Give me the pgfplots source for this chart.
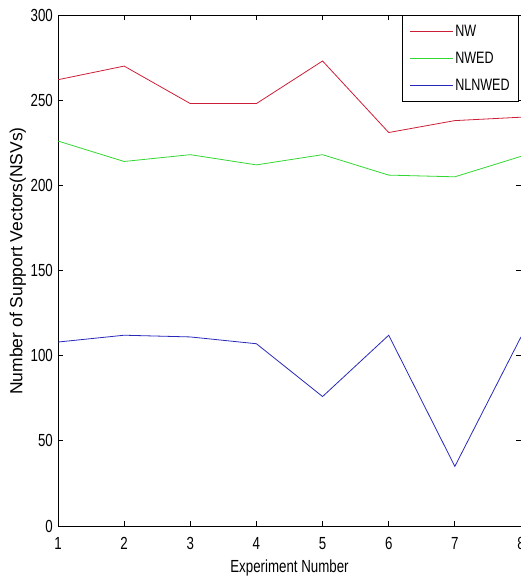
\documentclass[border=0pt]{standalone}
\usepackage{fontspec}
\setmainfont{Liberation Sans}[FakeStretch=0.76]
\newfontfamily\widefont{Liberation Sans}
\usepackage{pgfplots}
\pgfplotsset{compat=1.18}

\definecolor{cNW}{RGB}{205,30,55}
\definecolor{cNWED}{RGB}{50,215,50}
\definecolor{cNL}{RGB}{40,40,185}

\begin{document}
\begin{tikzpicture}
\begin{axis}[
	scale only axis,
	width=463bp, height=511bp,
	xmin=1, xmax=8, ymin=0, ymax=300,
	xtick={1,...,8}, ytick={0,50,...,300},
	tick align=inside,
	major tick length=5bp,
	axis line style={line width=0.9bp},
	every tick/.style={black, line width=0.8bp},
	/pgf/number format/assume math mode=true,
	tick label style={font=\fontsize{17.5bp}{20bp}\selectfont},
	yticklabel style={inner sep=0pt, xshift=-5bp},
	xticklabel style={inner sep=0pt, yshift=-11bp},
	xlabel={Experiment Number},
	xlabel style={font=\fontsize{17.5bp}{20bp}\selectfont, at={(axis description cs:0.5,0)}, anchor=center, yshift=-42bp},
	ylabel={Number of Support Vectors(NSVs)},
	ylabel style={font=\fontsize{17.5bp}{20bp}\widefont, at={(axis description cs:-0.0866,0.5186)}, anchor=center},
	legend cell align=left,
	legend image code/.code={\draw[#1] (0bp,0bp) -- (43bp,0bp);},
	legend style={at={(axis description cs:1,1)}, anchor=north east, xshift=-2bp,
		draw=black, line width=0.7bp, inner xsep=7bp, inner ysep=8bp,
		row sep=10bp,
		font=\fontsize{16.5bp}{18bp}\selectfont},
]
\addplot[cNW, line width=0.8bp] coordinates {
(1,262) (2,270) (3,248) (4,248) (5,273) (6,231) (7,238) (8,240)
};
\addlegendentry{NW}
\addplot[cNWED, line width=0.8bp] coordinates {
(1,226) (2,214) (3,218) (4,212) (5,218) (6,206) (7,205) (8,217)
};
\addlegendentry{NWED}
\addplot[cNL, line width=0.8bp] coordinates {
(1,108) (2,112) (3,111) (4,107) (5,76) (6,112) (7,35) (8,111)
};
\addlegendentry{NLNWED}
\end{axis}
\pgfresetboundingbox
\useasboundingbox ([shift={(-58bp,-54bp)}]current axis.south west) rectangle ([shift={(-0.3bp,15bp)}]current axis.north east);
\end{tikzpicture}
\end{document}
